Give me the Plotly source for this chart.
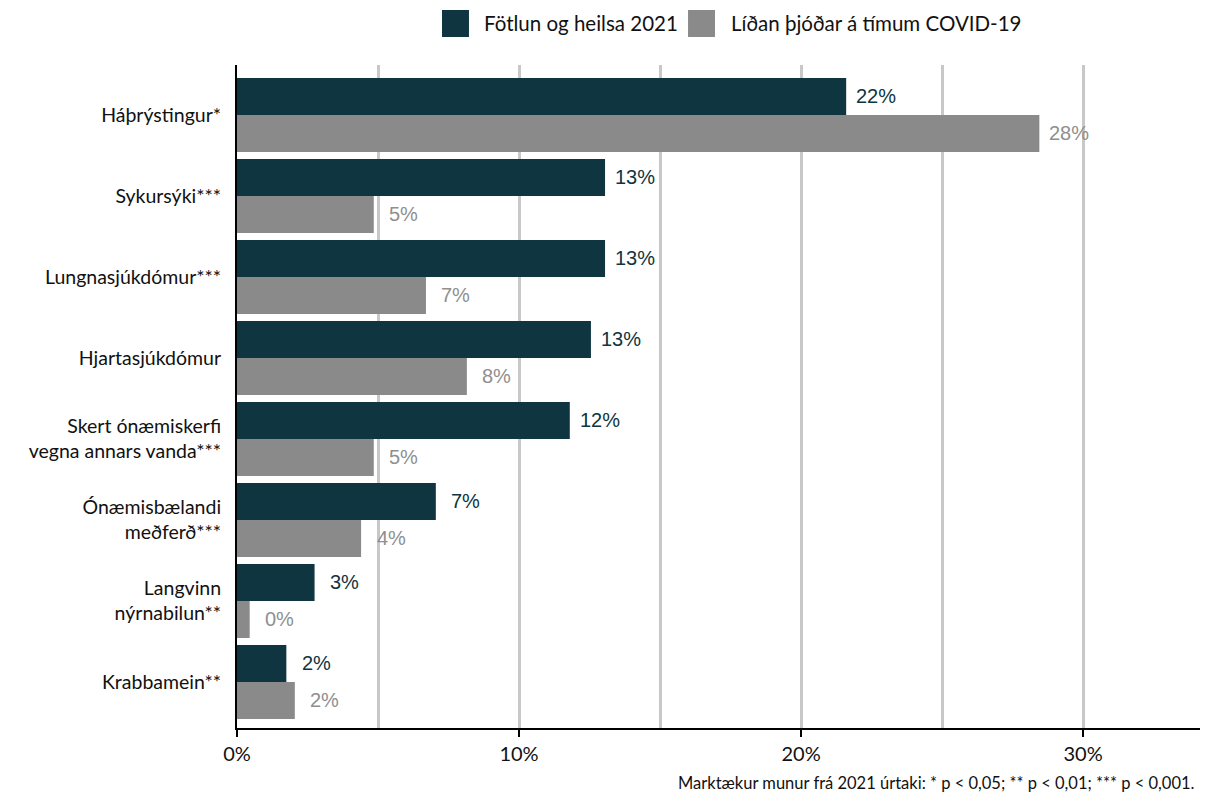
import plotly.graph_objects as go

categories = [
    "Háþrýstingur*",
    "Sykursýki***",
    "Lungnasjúkdómur***",
    "Hjartasjúkdómur",
    "Skert ónæmiskerfi<br>vegna annars vanda***",
    "Ónæmisbælandi<br>meðferð***",
    "Langvinn<br>nýrnabilun**",
    "Krabbamein**",
]
series_names = ["Fötlun og heilsa 2021", "Líðan þjóðar á tímum COVID-19"]
fotlun = [21.6, 13.05, 13.05, 12.55, 11.8, 7.05, 2.75, 1.75]
lidan = [28.45, 4.85, 6.7, 8.15, 4.85, 4.4, 0.45, 2.05]
tick_vals = [0, 10, 20, 30]
tick_text = ["0%", "10%", "20%", "30%"]
footnote = "Marktækur munur frá 2021 úrtaki: * p < 0,05; ** p < 0,01; *** p < 0,001."

DARK = "#0e3540"
GRAY = "#8a8a8a"
LABEL_FONT = "Lato"

fig = go.Figure()
fig.add_trace(go.Bar(y=categories, x=fotlun, orientation="h", name=series_names[0],
                     marker=dict(color=DARK, line=dict(width=0)), showlegend=False))
fig.add_trace(go.Bar(y=categories, x=lidan, orientation="h", name=series_names[1],
                     marker=dict(color=GRAY, line=dict(width=0)), showlegend=False))

annotations = []
for cat, v in zip(categories, fotlun):
    annotations.append(dict(x=v, y=cat, xref="x", yref="y", text=f"{round(v)}%",
                            showarrow=False, xanchor="center", yanchor="middle",
                            xshift=30, yshift=18.5,
                            font=dict(family="Liberation Sans, Arial", size=20, color=DARK)))
for cat, v in zip(categories, lidan):
    annotations.append(dict(x=v, y=cat, xref="x", yref="y", text=f"{round(v)}%",
                            showarrow=False, xanchor="center", yanchor="middle",
                            xshift=30, yshift=-18.5,
                            font=dict(family="Liberation Sans, Arial", size=20, color="#8f8f8f")))

# manual legend (large square swatches)
legend_items = [(series_names[0], DARK, 0.2111, 0.2523), (series_names[1], GRAY, 0.4645, 0.5067)]
shapes = []
for name, col, sx, tx in legend_items:
    shapes.append(dict(type="rect", xref="paper", yref="paper", x0=sx, x1=sx + 0.0278,
                       y0=1.0422, y1=1.0830, fillcolor=col, line=dict(width=0)))
    annotations.append(dict(x=tx, y=1.0626, xref="paper", yref="paper", text=name,
                            showarrow=False, xanchor="left", yanchor="middle",
                            font=dict(family=LABEL_FONT, size=20.5, color="#111111")))

annotations.append(dict(x=0.988, y=-0.083, xref="paper", yref="paper", text=footnote,
                        showarrow=False, xanchor="right", yanchor="middle",
                        font=dict(family=LABEL_FONT, size=16.5, color="#111111")))

fig.update_layout(
    width=1200, height=787,
    margin=dict(l=229, r=0, t=57, b=67),
    paper_bgcolor="white", plot_bgcolor="white",
    barmode="group", bargap=0.0864, bargroupgap=0,
    showlegend=False,
    annotations=annotations, shapes=shapes,
    font=dict(family=LABEL_FONT, color="#111111"),
)
fig.update_xaxes(
    range=[0, 34.43], tickvals=tick_vals, ticktext=tick_text,
    showgrid=True, gridcolor="#c8c8c8", gridwidth=2.5,
    minor=dict(dtick=5, tick0=0, showgrid=True, gridcolor="#c8c8c8", gridwidth=2.5, ticks=""),
    showline=True, linecolor="black", linewidth=2,
    ticks="outside", ticklen=7, tickwidth=2, tickcolor="black",
    tickfont=dict(family=LABEL_FONT, size=20, color="#111111"),
    zeroline=False, fixedrange=True,
)
fig.update_yaxes(
    categoryorder="array", categoryarray=categories,
    range=[7.568, -0.617],
    showline=True, linecolor="black", linewidth=2,
    showgrid=False, ticks="", ticklabelstandoff=10,
    tickfont=dict(family=LABEL_FONT, size=19.5, color="#111111"),
    fixedrange=True,
)

fig.write_html("out.html")
